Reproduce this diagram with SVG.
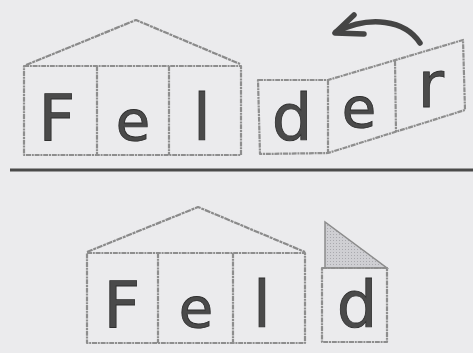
<svg xmlns="http://www.w3.org/2000/svg" width="473" height="353" viewBox="0 0 473 353">
<defs>
<style>
.bg{fill:#ebebed}
.box{fill:none;stroke:#8e8e8e;stroke-width:2.2;stroke-linejoin:round;stroke-dasharray:5 0.8 2 0.8}
.roof{fill:none;stroke:#8a8a8a;stroke-width:2.2;stroke-linejoin:round;stroke-dasharray:6 0.8 3 0.8}
.ltr{font-family:"DejaVu Sans","Liberation Sans",sans-serif;font-size:64px;fill:#4a4a4a;stroke:#2f2f2f;stroke-width:0.8;text-anchor:middle}
.sm{font-size:56px}
.arrow{fill:none;stroke:#454545;stroke-width:5.5;stroke-linecap:round;stroke-linejoin:round}
</style>
<pattern id="hatch" width="3" height="3" patternUnits="userSpaceOnUse">
<rect width="3" height="3" fill="#cfcfd3"/>
<rect width="1" height="1" fill="#a9a9ae"/>
</pattern>
</defs>
<rect class="bg" width="473" height="353"/>
<line x1="10" y1="170" x2="473" y2="170" stroke="#4a4a4a" stroke-width="3"/>

<g id="top-house">
<polyline class="roof" points="26,65 136,20 240,64"/>
<rect class="box" x="24" y="66" width="217" height="89"/>
<line class="box" x1="97" y1="66" x2="97" y2="155"/>
<line class="box" x1="169" y1="66" x2="169" y2="155"/>
<text class="ltr" x="57" y="140">F</text>
<text class="ltr sm" x="133" y="140">e</text>
<text class="ltr" x="202" y="140">l</text>
</g>

<g id="top-der">
<polygon class="box" points="258,80 328,80 463,40 465,110 328,153 260,154"/>
<line class="box" x1="328" y1="80" x2="328" y2="153"/>
<line class="box" x1="395" y1="61" x2="396" y2="132"/>
<text class="ltr" x="292" y="140">d</text>
<text class="ltr sm" x="359" y="127">e</text>
<text class="ltr" x="431" y="107">r</text>
</g>

<g id="connectors">
<path class="arrow" d="M420,43 C405,20 370,15 336,32"/>
<polyline class="arrow" points="354,15 335,33 364,34"/>
</g>

<g id="bottom-house">
<polyline class="roof" points="87,252 198,207 305,252"/>
<rect class="box" x="87" y="253" width="218" height="90"/>
<line class="box" x1="158" y1="253" x2="158" y2="343"/>
<line class="box" x1="233" y1="253" x2="233" y2="343"/>
<text class="ltr" x="122" y="327">F</text>
<text class="ltr sm" x="196" y="327">e</text>
<text class="ltr" x="262" y="327">l</text>
</g>

<g id="bottom-d">
<polygon points="325,222 325,268 387,268" fill="url(#hatch)" stroke="#8c8c8c" stroke-width="1.5"/>
<rect class="box" x="322" y="268" width="65" height="74"/>
<text class="ltr" x="357" y="327">d</text>
</g>
</svg>
